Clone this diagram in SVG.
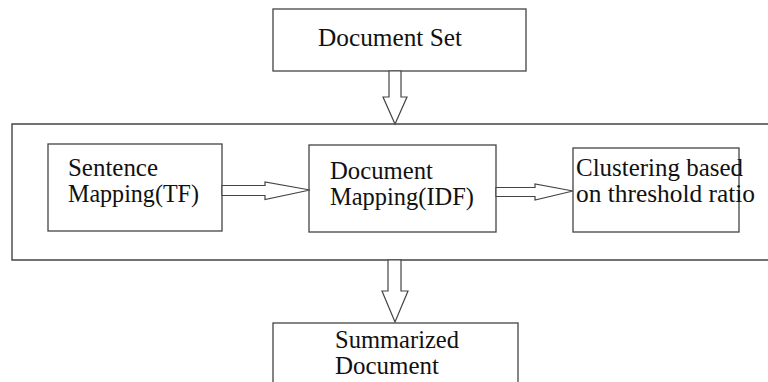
<svg xmlns="http://www.w3.org/2000/svg" width="768" height="382" viewBox="0 0 768 382">
<style>
.box{fill:#fff;stroke:#444;stroke-width:1.3}
.arr{fill:#fff;stroke:#444;stroke-width:1.2;stroke-linejoin:miter}
.t{font-family:'Liberation Serif','Times New Roman',serif;font-size:24.5px;fill:#111}
</style>
<rect width="768" height="382" fill="#fff"/>
<g id="container">
<path d="M769,124 H12 V260 H769" fill="#fff" stroke="#444" stroke-width="1.4"/>
</g>
<g id="document-set">
<rect class="box" x="273" y="9" width="253" height="62"/>
<text class="t" font-family="Liberation Serif, serif" x="318" y="46" textLength="144" lengthAdjust="spacingAndGlyphs">Document Set</text>
</g>
<g id="sentence-mapping">
<rect class="box" x="48" y="144" width="174" height="87"/>
<text class="t" font-family="Liberation Serif, serif" x="68" y="176" textLength="90" lengthAdjust="spacingAndGlyphs">Sentence</text>
<text class="t" font-family="Liberation Serif, serif" x="68" y="202" textLength="131" lengthAdjust="spacingAndGlyphs">Mapping(TF)</text>
</g>
<g id="document-mapping">
<rect class="box" x="309" y="145" width="187" height="87"/>
<text class="t" font-family="Liberation Serif, serif" x="330" y="179" textLength="103" lengthAdjust="spacingAndGlyphs">Document</text>
<text class="t" font-family="Liberation Serif, serif" x="330" y="205" textLength="144" lengthAdjust="spacingAndGlyphs">Mapping(IDF)</text>
</g>
<g id="clustering">
<rect class="box" x="573" y="148" width="166" height="84"/>
<text class="t" font-family="Liberation Serif, serif" x="576" y="176" textLength="167" lengthAdjust="spacingAndGlyphs">Clustering based</text>
<text class="t" font-family="Liberation Serif, serif" x="576" y="202" textLength="179" lengthAdjust="spacingAndGlyphs">on threshold ratio</text>
</g>
<g id="summarized-document">
<rect class="box" x="273" y="323" width="245" height="70"/>
<text class="t" font-family="Liberation Serif, serif" x="335" y="348" textLength="124" lengthAdjust="spacingAndGlyphs">Summarized</text>
<text class="t" font-family="Liberation Serif, serif" x="335" y="374" textLength="104" lengthAdjust="spacingAndGlyphs">Document</text>
</g>
<g id="connectors">
<polygon class="arr" points="389,71 401,71 401,97 407,97 395,124 383,97 389,97"/>
<polygon class="arr" points="222,185.5 265,185.5 265,182 310,190 265,199.5 265,195.5 222,195.5"/>
<polygon class="arr" points="496,187.5 535,187.5 535,184 573,191 535,200 535,196.5 496,196.5"/>
<polygon class="arr" points="388,260 401,260 401,291 408,291 395,322 382,291 388,291"/>
</g>
</svg>
